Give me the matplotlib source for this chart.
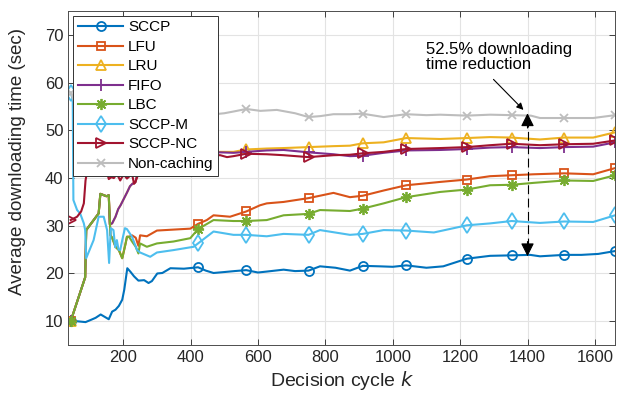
import matplotlib
matplotlib.use("Agg")
import matplotlib.pyplot as plt

# (decision cycle k, average downloading time in sec)
sccp = [(44, 10), (60, 10), (88, 9.8), (105, 10.3), (118, 10.7), (133, 11.4), (145, 10.9),
        (157, 10.4), (167, 12), (177, 12.4), (187, 13.2), (197, 14.5), (203, 16.6), (212, 21.1),
        (222, 20.3), (232, 19.4), (245, 18.5), (262, 18.6), (275, 18.0), (285, 18.4), (301, 20),
        (316, 20.1), (340, 21.1), (380, 21.0), (422, 21.3), (445, 20.6), (468, 20.1), (500, 20.3),
        (530, 20.5), (565, 20.7), (600, 20.2), (626, 20.4), (676, 20.8), (710, 20.5), (750, 20.6),
        (784, 21.5), (830, 21.2), (873, 20.6), (911, 21.6), (960, 21.5), (1000, 21.4), (1040, 21.7),
        (1100, 21.2), (1150, 21.5), (1185, 22.3), (1220, 23.1), (1289, 23.7), (1353, 23.8),
        (1408, 23.9), (1437, 23.6), (1509, 23.9), (1560, 23.9), (1610, 24.1), (1660, 24.7)]

lfu = [(44, 10), (87, 19.2), (90, 29.1), (127, 32.6), (132, 36.7), (150, 36.2), (157, 36.4),
       (162, 28.0), (167, 27.5), (177, 25.6), (187, 24.9), (197, 23.2), (207, 26.3), (211, 27.7),
       (217, 27.7), (226, 28.0), (237, 27.5), (245, 25.8), (250, 28.0), (270, 27.8), (300, 29.0),
       (349, 29.2), (399, 29.4), (422, 30.4), (448, 31.2), (468, 32.2), (517, 31.9), (565, 33.0),
       (606, 34.3), (626, 34.7), (676, 35.0), (750, 35.8), (824, 36.9), (873, 36.0), (911, 36.3),
       (973, 37.4), (1040, 38.5), (1141, 39.2), (1220, 39.7), (1289, 40.4), (1353, 40.6),
       (1418, 40.8), (1509, 41.0), (1595, 40.8), (1660, 42.1)]

lru = [(44, 10), (87, 19.2), (90, 29.1), (127, 32.6), (132, 36.7), (150, 36.2), (157, 36.4),
       (160, 30.3), (167, 30.5), (177, 31.9), (185, 33.5), (192, 34.3), (202, 35.7), (212, 37.1),
       (220, 38.3), (227, 38.8), (236, 39.1), (241, 40.6), (250, 41.6), (256, 41.2), (270, 43.7),
       (300, 45.2), (360, 45.5), (422, 45.6), (488, 45.5), (527, 45.5), (565, 46.0), (626, 46.2),
       (676, 46.3), (750, 46.5), (824, 46.7), (873, 46.8), (911, 47.3), (973, 47.5), (1040, 48.4),
       (1141, 48.2), (1220, 48.4), (1289, 48.6), (1353, 48.5), (1437, 48.1), (1509, 48.5),
       (1595, 48.5), (1660, 49.6)]

fifo = [(44, 10), (87, 19.2), (90, 29.1), (127, 32.6), (132, 36.7), (150, 36.2), (157, 36.4),
        (160, 30.3), (167, 30.5), (177, 31.9), (185, 33.5), (192, 34.3), (202, 35.7), (212, 37.1),
        (220, 38.3), (227, 38.8), (236, 39.1), (241, 40.6), (250, 41.6), (256, 41.2), (270, 43.7),
        (300, 45.0), (360, 45.3), (422, 45.2), (488, 45.4), (527, 45.3), (565, 45.5), (626, 45.8),
        (676, 45.9), (750, 45.4), (824, 45.0), (873, 44.6), (911, 44.7), (973, 45.3), (1040, 45.8),
        (1141, 45.9), (1220, 46.1), (1289, 46.4), (1353, 46.5), (1437, 46.3), (1509, 46.5),
        (1595, 46.6), (1660, 47.5)]

lbc = [(44, 10), (87, 19.2), (90, 29.1), (127, 32.6), (132, 36.7), (150, 36.2), (157, 36.4),
       (162, 28.0), (167, 27.5), (177, 25.6), (187, 24.9), (197, 23.2), (207, 26.3), (211, 27.7),
       (217, 27.7), (228, 26.5), (237, 25.6), (245, 24.2), (250, 26.3), (270, 25.6), (300, 26.3),
       (349, 26.7), (399, 27.4), (422, 29.3), (468, 31.2), (527, 31.0), (565, 31.0), (626, 31.2),
       (676, 32.2), (750, 32.5), (784, 33.3), (873, 33.1), (911, 33.6), (973, 34.7), (1040, 36.0),
       (1141, 37.1), (1220, 37.6), (1289, 38.5), (1353, 38.6), (1418, 39.0), (1509, 39.5),
       (1595, 39.4), (1660, 40.6)]

sccp_m = [(44, 57.9), (50, 56.5), (52, 35.4), (63, 33.3), (72, 32.6), (83, 30.5), (87, 29.1),
          (90, 23.2), (112, 27.0), (127, 31.9), (142, 31.9), (152, 29.1), (158, 22.2), (163, 29.5),
          (171, 29.1), (176, 25.5), (181, 27.0), (186, 25.0), (191, 24.9), (197, 27.0), (205, 29.5),
          (211, 29.3), (226, 27.7), (241, 24.9), (250, 24.4), (280, 23.5), (300, 24.4), (349, 24.9),
          (409, 25.6), (422, 26.3), (468, 28.8), (527, 28.1), (565, 28.1), (626, 27.8), (676, 28.3),
          (750, 28.1), (784, 29.1), (873, 28.1), (911, 28.3), (973, 29.1), (1040, 29.0),
          (1122, 28.6), (1220, 30.1), (1289, 30.5), (1353, 31.0), (1437, 30.6), (1509, 30.9),
          (1595, 30.8), (1660, 32.2)]

sccp_nc = [(44, 31.2), (63, 31.9), (75, 33.0), (83, 34.7), (88, 39.5), (93, 41.6), (97, 46.0),
           (110, 46.5), (130, 44.5), (150, 42.0), (152, 41.2), (157, 39.8), (165, 40.2), (172, 40.0),
           (181, 40.9), (191, 39.5), (201, 40.8), (211, 39.9), (220, 40.5), (226, 40.9), (232, 38.8),
           (236, 39.2), (245, 40.9), (255, 41.9), (300, 44.5), (360, 44.8), (422, 44.9), (488, 44.8),
           (508, 44.4), (527, 44.6), (565, 45.1), (626, 45.0), (676, 44.8), (750, 44.4), (824, 44.8),
           (873, 44.9), (911, 45.2), (973, 45.5), (1040, 46.1), (1141, 46.3), (1220, 46.5),
           (1289, 46.9), (1353, 47.2), (1437, 46.9), (1509, 47.1), (1595, 47.2), (1660, 47.9)]

non_caching = [(44, 57.9), (60, 55.0), (100, 54.0), (200, 53.5), (300, 53.8), (422, 53.4),
               (458, 53.3), (500, 53.6), (530, 54.0), (565, 54.5), (607, 54.1), (656, 54.3),
               (710, 53.6), (750, 52.8), (785, 53.0), (824, 53.4), (873, 53.4), (911, 53.5),
               (973, 52.8), (1040, 53.4), (1100, 53.2), (1141, 53.3), (1220, 53.1), (1289, 53.3),
               (1353, 53.2), (1410, 53.1), (1437, 52.6), (1509, 52.6), (1595, 52.6), (1660, 53.2)]

# cycles where markers sit
mark_k = [44, 422, 565, 750, 911, 1040, 1220, 1353, 1509, 1660]

series = [
    ("SCCP", sccp, "#0072BD", "o", 6.5),
    ("LFU", lfu, "#D95319", "s", 6),
    ("LRU", lru, "#EDB120", "^", 7),
    ("FIFO", fifo, "#7E2F8E", "+", 8),
    ("LBC", lbc, "#77AC30", (8, 2, 0), 8),
    ("SCCP-M", sccp_m, "#4DBEEE", "d", 8),
    ("SCCP-NC", sccp_nc, "#A2142F", ">", 7),
    ("Non-caching", non_caching, "#BDBDBD", "x", 6),
]

plt.rcParams['font.family'] = ['Liberation Sans', 'DejaVu Sans']

fig, ax = plt.subplots(figsize=(6.27, 4.0), dpi=100)
fig.subplots_adjust(left=0.109, right=0.981, top=0.972, bottom=0.1375)

for name, pts, color, marker, ms in series:
    ks = [p[0] for p in pts]
    vals = [p[1] for p in pts]
    idx = [ks.index(m) for m in mark_k]
    ax.plot(ks, vals, color=color, lw=1.5, marker=marker, markevery=idx,
            markersize=ms, markerfacecolor='none', markeredgecolor=color,
            markeredgewidth=1.3, label=name)

ax.set_xlim(37, 1660)
ax.set_ylim(5, 75)
ax.set_xticks([200, 400, 600, 800, 1000, 1200, 1400, 1600])
ax.set_yticks([10, 20, 30, 40, 50, 60, 70])
ax.grid(True, color='#e3e3e3', lw=0.8)
ax.set_axisbelow(True)
ax.tick_params(direction='in', top=True, right=True, labelsize=12,
               colors='#262626', length=4, width=0.6)
for s in ax.spines.values():
    s.set_color('#4d4d4d')
    s.set_linewidth(0.7)

ax.set_xlabel("Decision cycle $\\mathit{k}$", fontsize=14, color='#262626', labelpad=3)
ax.set_ylabel("Average downloading time (sec)", fontsize=13.5, color='#262626')
ax.yaxis.set_label_coords(-0.078, 0.55)

# annotation: gap between Non-caching and SCCP at k = 1400
ax.plot([1400, 1400], [25.5, 51.5], color='k', lw=0.8, linestyle=(0, (8, 4)))
ax.annotate('', xy=(1400, 53.6), xytext=(1400, 50.5),
            arrowprops=dict(arrowstyle='-|>', color='k', lw=0.8, mutation_scale=20,
                            shrinkA=0, shrinkB=0))
ax.annotate('', xy=(1400, 23.6), xytext=(1400, 26.7),
            arrowprops=dict(arrowstyle='-|>', color='k', lw=0.8, mutation_scale=20,
                            shrinkA=0, shrinkB=0))
ax.annotate('', xy=(1388, 54.3), xytext=(1299, 60.7),
            arrowprops=dict(arrowstyle='-|>', color='k', lw=0.8, mutation_scale=10,
                            shrinkA=0, shrinkB=0))
ax.text(1099, 68.6, "52.5% downloading\ntime reduction", fontsize=12, va='top', ha='left',
        color='k', linespacing=1.05)

leg = ax.legend(loc='upper left', bbox_to_anchor=(0.008, 0.987), borderaxespad=0,
                fontsize=11, handlelength=3.0, labelspacing=0.36, handletextpad=0.3,
                borderpad=0.32, fancybox=False, framealpha=1)
leg.get_frame().set_edgecolor('#333333')
leg.get_frame().set_linewidth(0.7)

fig.savefig("out.png", dpi=100)
